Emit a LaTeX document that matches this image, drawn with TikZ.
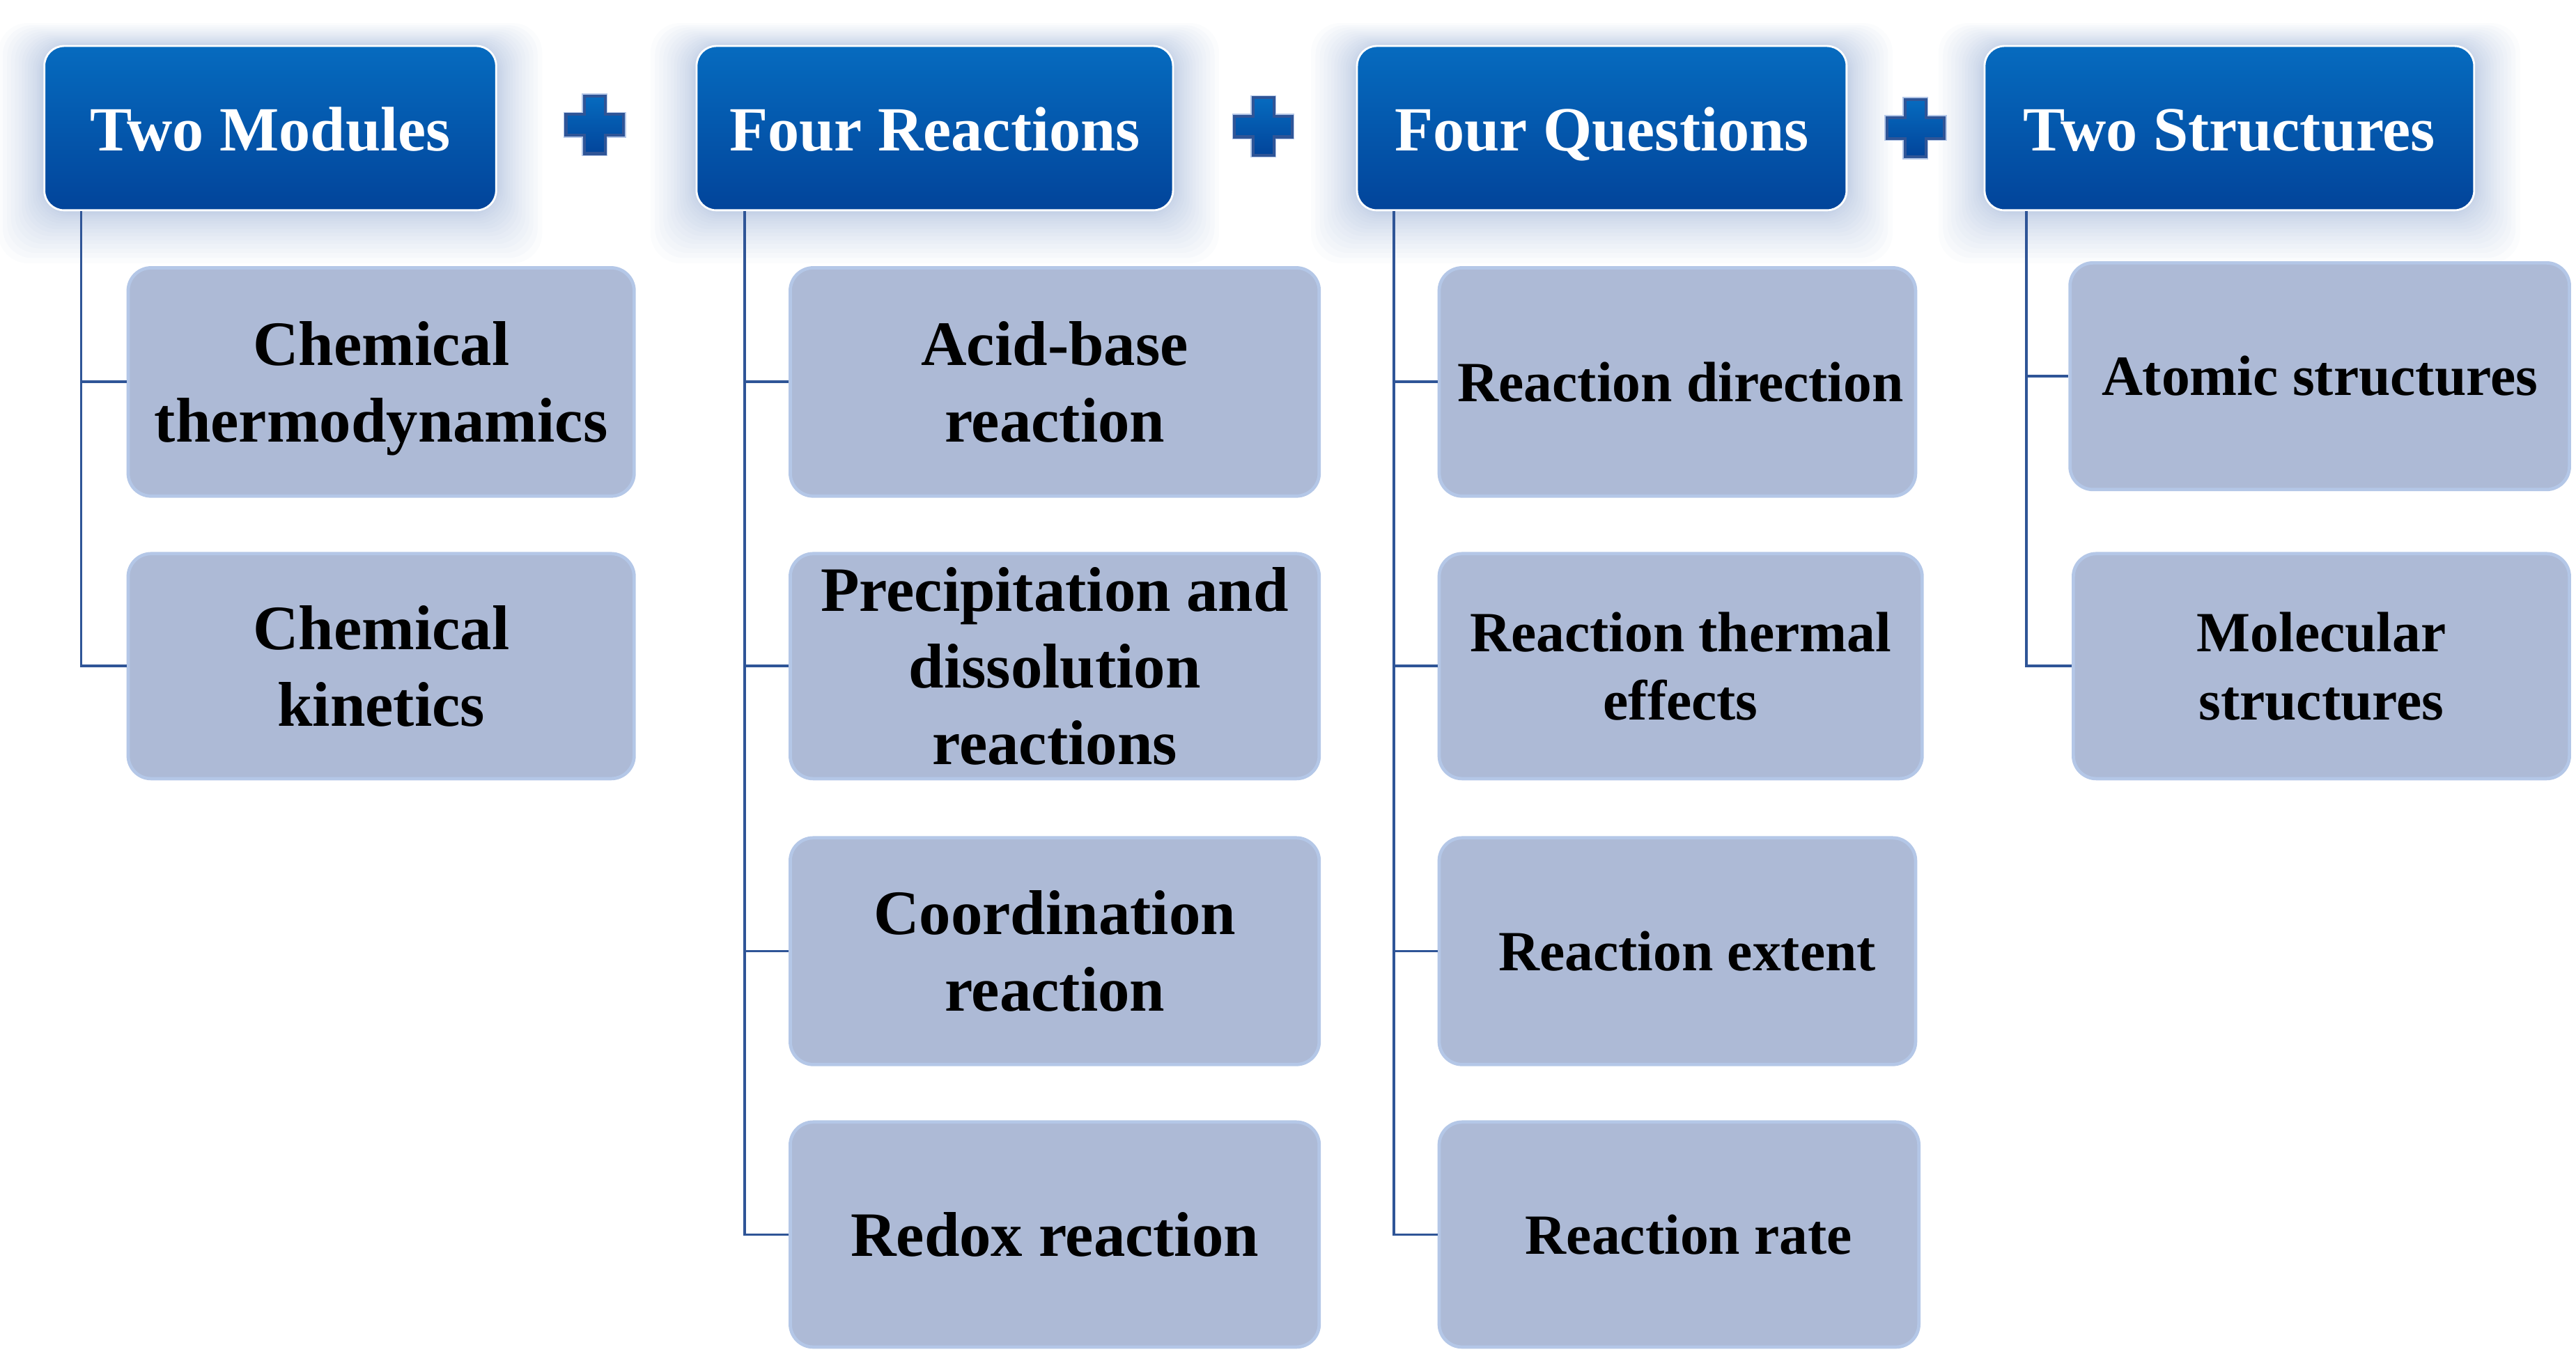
\documentclass[tikz,border=0pt]{standalone}
\usepackage{fontspec}
\setmainfont{Liberation Serif}
\usetikzlibrary{calc}
\definecolor{hdtop}{HTML}{066BBF}
\definecolor{hdbot}{HTML}{02449A}
\definecolor{chfill}{HTML}{ADBAD6}
\definecolor{chline}{HTML}{B4C7E7}
\definecolor{connc}{HTML}{2F5597}
\definecolor{glowc}{HTML}{5F82BC}
\tikzset{
  hdr/.style={rounded corners=12pt, top color=hdtop, bottom color=hdbot, draw=white,
    line width=1.2pt, text=white, inner sep=0pt, text height=28pt, text depth=0pt,
    font=\fontsize{38.3}{42}\selectfont\bfseries},
  chd/.style={rounded corners=14pt, fill=chfill, draw=chline, line width=2pt,
    align=center, inner sep=0pt, text=black},
  bigtxt/.style={font=\fontsize{38.5}{46.5}\selectfont\bfseries},
  smalltxt/.style={font=\fontsize{34.6}{41.5}\selectfont\bfseries},
  connline/.style={draw=connc, line width=1.6pt},
  plusst/.style={top color=hdtop, bottom color=hdbot, draw=connc, line width=1.8pt,
    preaction={draw=chline, line width=3pt}},
  glowst/.style={fill=glowc, opacity=0.026, rounded corners=18pt},
}
\newcommand\glowbox[4]{%
  \foreach \k [evaluate=\k as \d using 28*(\k/20)^2] in {1,...,20}{%
    \path[glowst] (#1-\d, #2-0.5*\d) rectangle (#3+\d, #4+1.15*\d);
  }}
\newcommand\plussign[2]{%
  \path[plusst] (#1-6.35,#2-17.5) -- (#1+6.35,#2-17.5) -- (#1+6.35,#2-6.35)
    -- (#1+17.5,#2-6.35) -- (#1+17.5,#2+6.35) -- (#1+6.35,#2+6.35)
    -- (#1+6.35,#2+17.5) -- (#1-6.35,#2+17.5) -- (#1-6.35,#2+6.35)
    -- (#1-17.5,#2+6.35) -- (#1-17.5,#2-6.35) -- (#1-6.35,#2-6.35) -- cycle;}
\begin{document}
\begin{tikzpicture}[x=1pt, y={(0pt,-1pt)}]
\useasboundingbox (0,0) rectangle (1568,823);
% glows
\glowbox{27}{28}{302}{128}
\glowbox{424}{28}{714}{128}
\glowbox{826}{28}{1124}{128}
\glowbox{1208}{28}{1506}{128}
% headers
\node[hdr, minimum width=275pt, minimum height=100pt] (h1) at (164.5,78) {Two Modules};
\node[hdr, minimum width=290pt, minimum height=100pt] (h2) at (569,78) {Four Reactions};
\node[hdr, minimum width=298pt, minimum height=100pt] (h3) at (975,78) {Four Questions};
\node[hdr, minimum width=298pt, minimum height=100pt] (h4) at (1357,78) {Two Structures};
% plus signs
\plussign{362}{76}
\plussign{769}{77}
\plussign{1166}{78}
% children column 1
\node[chd, bigtxt, minimum width=308pt, minimum height=139pt] (c11) at (232,232.5) {Chemical\\thermod\smash{y}namics};
\node[chd, bigtxt, minimum width=308pt, minimum height=137pt] (c12) at (232,405.5) {Chemical\\kinetics};
% column 2
\node[chd, bigtxt, minimum width=322pt, minimum height=139pt] (c21) at (642,232.5) {Acid-base\\reaction};
\node[chd, bigtxt, minimum width=322pt, minimum height=137pt] (c22) at (642,405.5) {Precipitation and\\dissolution\\reactions};
\node[chd, bigtxt, minimum width=322pt, minimum height=138pt] (c23) at (642,579) {Coordination\\reaction};
\node[chd, bigtxt, minimum width=322pt, minimum height=137pt] (c24) at (642,751.5) {Redox reaction};
% column 3
\node[chd, smalltxt, minimum width=290pt, minimum height=139pt] (c31) at (1021,232.5) {\hspace*{4pt}Reaction direction};
\node[chd, smalltxt, minimum width=294pt, minimum height=137pt] (c32) at (1023,405.5) {Reaction thermal\\effects};
\node[chd, smalltxt, minimum width=290pt, minimum height=138pt] (c33) at (1021,579) {\hspace*{12pt}Reaction extent};
\node[chd, smalltxt, minimum width=292pt, minimum height=137pt] (c34) at (1022,751.5) {\hspace*{12pt}Reaction rate};
% column 4
\node[chd, smalltxt, minimum width=304pt, minimum height=138pt] (c41) at (1412,229) {Atomic structures};
\node[chd, smalltxt, minimum width=302pt, minimum height=137pt] (c42) at (1413,405.5) {Molecular\\structures};
% connectors
\draw[connline] ([xshift=23pt]h1.south west) |- (c11.west);
\draw[connline] ([xshift=23pt]h1.south west) |- (c12.west);
\draw[connline] ([xshift=30pt]h2.south west) |- (c21.west);
\draw[connline] ([xshift=30pt]h2.south west) |- (c22.west);
\draw[connline] ([xshift=30pt]h2.south west) |- (c23.west);
\draw[connline] ([xshift=30pt]h2.south west) |- (c24.west);
\draw[connline] ([xshift=23pt]h3.south west) |- (c31.west);
\draw[connline] ([xshift=23pt]h3.south west) |- (c32.west);
\draw[connline] ([xshift=23pt]h3.south west) |- (c33.west);
\draw[connline] ([xshift=23pt]h3.south west) |- (c34.west);
\draw[connline] ([xshift=26pt]h4.south west) |- (c41.west);
\draw[connline] ([xshift=26pt]h4.south west) |- (c42.west);
\end{tikzpicture}
\end{document}
